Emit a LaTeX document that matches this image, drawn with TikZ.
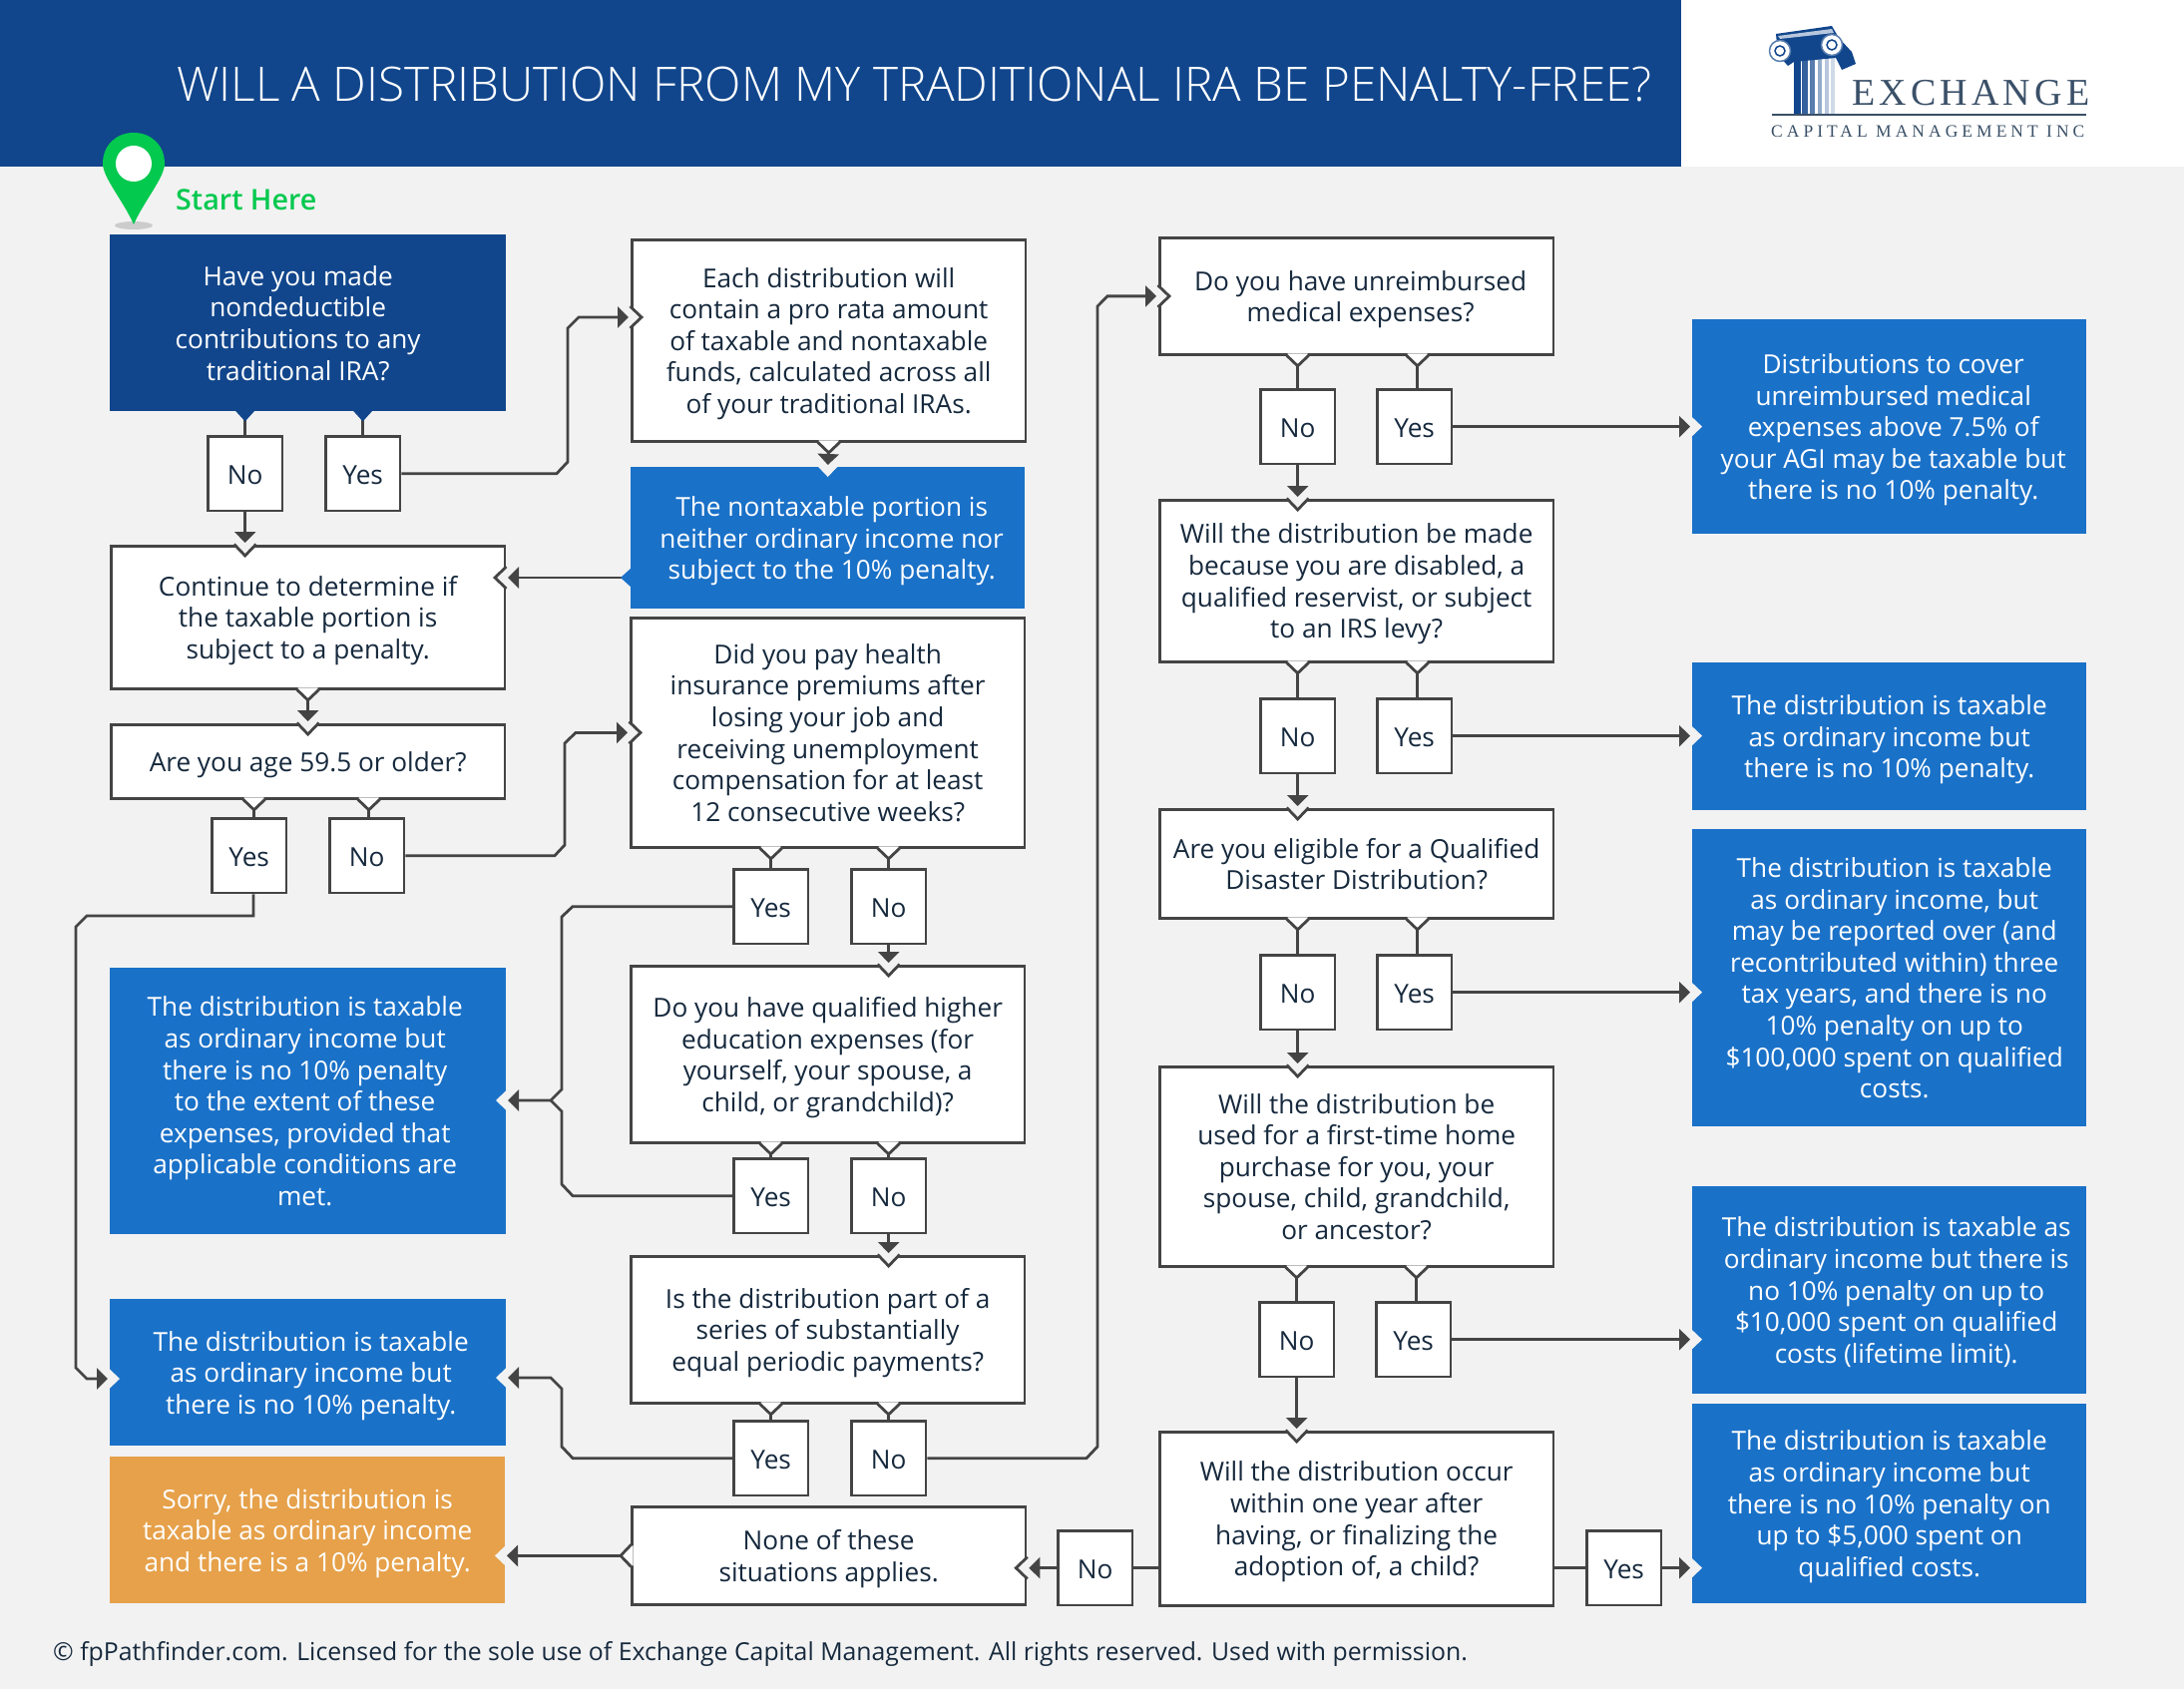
\documentclass[tikz,border=0pt]{standalone}
\usepackage{fontspec}
\setmainfont{Open Sans}
\newfontfamily\titlefont{Open Sans Light}
\newfontfamily\startfont{Open Sans Semibold}
\newfontfamily\logofont[LetterSpace=11]{Liberation Serif}
\newfontfamily\logosmall[LetterSpace=23]{Liberation Serif}
\usepackage{tikz}
\usetikzlibrary{arrows.meta}
\definecolor{paper}{HTML}{F2F2F2}
\definecolor{navy}{HTML}{11468C}
\definecolor{midblue}{HTML}{1A71C8}
\definecolor{amber}{HTML}{E6A14A}
\definecolor{ink}{HTML}{16293D}
\definecolor{wire}{HTML}{444444}
\definecolor{pingreen}{HTML}{03C94F}
\definecolor{slate}{HTML}{3A5068}
\tikzset{
    every node/.append style={font=\fontsize{26.2}{31.6}\selectfont, text=ink, align=center, inner sep=0pt},
    wh/.style 2 args={minimum width=#1pt, minimum height=#2pt, anchor=north west},
    lines/.style={text depth=-2pt},
    oneline/.style={text height=28pt, text depth=7pt},
    quest/.style={lines, draw=wire, line width=2.8pt, fill=white, wh={394.5}{100}},
    answer/.style={oneline, draw=wire, line width=2.8pt, fill=white, wh={74.5}{74.5}},
    result/.style={lines, fill=midblue, text=white, wh={395}{100}},
    over/.style={lines, text=white},
    link/.style={draw=wire, line width=2.8pt},
    arrow/.style={link, -{Triangle[length=11pt,width=21pt]}, shorten >=2pt},
    bumpw/.pic={\fill[white] (-10,-2.5) -- (-10,0) -- (0,10) -- (10,0) -- (10,-2.5) -- cycle;
        \draw[link] (-11,-0.5) -- (0,10) -- (11,-0.5);},
    bumpn/.pic={\fill[navy] (-10,-1) -- (0,10) -- (10,-1) -- cycle;},
    bumpb/.pic={\fill[midblue] (-10,-1) -- (0,10) -- (10,-1) -- cycle;},
    notchw/.pic={\fill[paper] (-11,-2.5) -- (-11,0) -- (0,11) -- (11,0) -- (11,-2.5) -- cycle;
        \draw[link] (-11,-0.5) -- (0,11) -- (11,-0.5);},
    notchc/.pic={\fill[paper] (-10.5,-1) -- (0,10) -- (10.5,-1) -- cycle;},
}
\begin{document}
\begin{tikzpicture}[x=1pt, y=-1pt]
    \useasboundingbox (0,0) rectangle (2189,1693);
    \fill[paper] (0,0) rectangle (2189,1693);
    % header
    \fill[navy] (0,0) rectangle (1685,167);
    \fill[navy] (1685,72) -- (1695,82) -- (1685,92) -- cycle;
    \fill[white] (1685,0) rectangle (2189,167);
    \node[font=\titlefont\fontsize{47.6}{50}\selectfont, text=white, anchor=west] (title) at (177,84) {WILL A DISTRIBUTION FROM MY TRADITIONAL IRA BE PENALTY-FREE?};
    % logo
    \fill[navy] (1798,50) rectangle (1805,115);
    \fill[navy!85] (1806,50) rectangle (1812,115);
    \fill[navy!70] (1814,50) rectangle (1819,115);
    \fill[navy!45] (1822,50) rectangle (1826,115);
    \fill[navy!30] (1829,50) rectangle (1833,115);
    \fill[navy!20] (1835,50) rectangle (1839,115);
    \fill[navy] (1780,34) -- (1836,26) -- (1843,38) -- (1856,52) -- (1860,64) -- (1846,70) -- (1840,58) -- (1798,62) -- (1792,66) -- (1782,55) -- cycle;
    \fill[white!70!navy] (1782,36) -- (1836,29) -- (1838,33) -- (1784,39) -- cycle;
    \draw[navy!70, line width=1.5pt, fill=white] (1784,51) circle (10.5);
    \draw[navy, line width=1.5pt] (1784,51) circle (5);
    \draw[navy!70, line width=1.5pt, fill=white] (1836,45) circle (10.5);
    \draw[navy, line width=1.5pt] (1836,45) circle (5);
    \draw[slate, line width=2.2pt] (1776,115) -- (2091,115);
    \node[font=\logofont\fontsize{38}{40}\selectfont, text=slate, anchor=base west] (exch) at (1856,106) {EXCHANGE};
    \node[font=\logosmall\fontsize{17.5}{20}\selectfont, text=slate, anchor=base west] (capm) at (1775,137.5) {CAPITAL MANAGEMENT INC};
    % start pin
    \fill[black!20] (134,226) ellipse (19 and 4);
    \fill[pingreen] (134,225) .. controls (124,202) and (103,178) .. (103,164) .. controls (103,145) and (117,133) .. (134,133) .. controls (151,133) and (165,145) .. (165,164) .. controls (165,178) and (144,202) .. (134,225) -- cycle;
    \fill[white] (134,164) circle (18);
    \node[font=\startfont\fontsize{28.7}{32}\selectfont, text=pingreen, anchor=west] (start) at (176,200.5) {Start Here};
    % left column
    \node[wh={397}{177}, fill=navy] (q1) at (110,235) {};
    \node[over] (q1text) at ([xshift=-10pt]q1.center) {Have you made\\nondeductible\\contributions to any\\traditional IRA?};
    \node[answer] (no1) at (207,436) {No};
    \node[answer] (yes1) at (325,436) {Yes};
    \node[quest, minimum height=143pt] (cont) at (110,546) {Continue to determine if\\the taxable portion is\\subject to a penalty.};
    \node[quest, oneline, minimum height=74pt] (age) at (110,725) {Are you age 59.5 or older?};
    \node[answer] (yes2) at (211,819) {Yes};
    \node[answer] (no2) at (329,819) {No};
    \node[wh={397}{267}, fill=midblue] (left1) at (110,970) {};
    \node[over] (left1text) at ([xshift=-3pt]left1.center) {The distribution is taxable\\as ordinary income but\\there is no 10\% penalty\\to the extent of these\\expenses, provided that\\applicable conditions are\\met.};
    \node[wh={397}{147}, fill=midblue] (left2) at (110,1302) {};
    \node[over] (left2text) at ([xshift=3pt]left2.center) {The distribution is taxable\\as ordinary income but\\there is no 10\% penalty.};
    \node[result, wh={396}{147}, fill=amber] (sorry) at (110,1460) {Sorry, the distribution is\\taxable as ordinary income\\and there is a 10\% penalty.};
    % middle column
    \node[quest, minimum height=202pt] (each) at (632,239) {Each distribution will\\contain a pro rata amount\\of taxable and nontaxable\\funds, calculated across all\\of your traditional IRAs.};
    \node[wh={395}{142}, fill=midblue] (nontax) at (632,468) {};
    \node[over] (nontaxtext) at ([xshift=4pt]nontax.center) {The nontaxable portion is\\neither ordinary income nor\\subject to the 10\% penalty.};
    \node[quest, minimum height=230pt] (health) at (631,618) {Did you pay health\\insurance premiums after\\losing your job and\\receiving unemployment\\compensation for at least\\12 consecutive weeks?};
    \node[answer] (yes3) at (734,870) {Yes};
    \node[answer] (no3) at (852,870) {No};
    \node[quest, minimum height=177pt] (edu) at (631,967) {Do you have qualified higher\\education expenses (for\\yourself, your spouse, a\\child, or grandchild)?};
    \node[answer] (yes4) at (734,1160) {Yes};
    \node[answer] (no4) at (852,1160) {No};
    \node[quest, minimum height=147pt] (series) at (631,1258) {Is the distribution part of a\\series of substantially\\equal periodic payments?};
    \node[answer] (yes5) at (734,1423) {Yes};
    \node[answer] (no5) at (852,1423) {No};
    \node[quest, minimum height=98pt] (none) at (632,1509) {None of these\\situations applies.};
    \node[answer] (no6) at (1059,1533) {No};
    % right column
    \node[quest, minimum height=117pt] (med) at (1161,237) {};
    \node[lines] (medtext) at ([xshift=4pt]med.center) {Do you have unreimbursed\\medical expenses?};
    \node[answer] (no7) at (1262,389) {No};
    \node[answer] (yes7) at (1379,389) {Yes};
    \node[quest, minimum height=162pt] (disab) at (1161,500) {Will the distribution be made\\because you are disabled, a\\qualified reservist, or subject\\to an IRS levy?};
    \node[answer] (no8) at (1262,699) {No};
    \node[answer] (yes8) at (1379,699) {Yes};
    \node[quest, minimum height=109pt] (qual) at (1161,810) {Are you eligible for a Qualified\\Disaster Distribution?};
    \node[answer] (no9) at (1262,956) {No};
    \node[answer] (yes9) at (1379,956) {Yes};
    \node[quest, minimum height=200pt] (first) at (1161,1068) {Will the distribution be\\used for a first-time home\\purchase for you, your\\spouse, child, grandchild,\\or ancestor?};
    \node[answer] (no10) at (1261,1304) {No};
    \node[answer] (yes10) at (1378,1304) {Yes};
    \node[quest, minimum height=174pt] (adopt) at (1161,1434) {Will the distribution occur\\within one year after\\having, or finalizing the\\adoption of, a child?};
    \node[answer] (yes11) at (1589,1533) {Yes};
    % results
    \node[wh={395}{215}, fill=midblue] (res1) at (1696,320) {};
    \node[over] (res1text) at ([xshift=4pt]res1.center) {Distributions to cover\\unreimbursed medical\\expenses above 7.5\% of\\your AGI may be taxable but\\there is no 10\% penalty.};
    \node[result, wh={395}{148}] (res2) at (1696,664) {The distribution is taxable\\as ordinary income but\\there is no 10\% penalty.};
    \node[wh={395}{298}, fill=midblue] (res3) at (1696,831) {};
    \node[over] (res3text) at ([xshift=5pt]res3.center) {The distribution is taxable\\as ordinary income, but\\may be reported over (and\\recontributed within) three\\tax years, and there is no\\10\% penalty on up to\\\$100,000 spent on qualified\\costs.};
    \node[wh={395}{208}, fill=midblue] (res4) at (1696,1189) {};
    \node[over] (res4text) at ([xshift=7pt]res4.center) {The distribution is taxable as\\ordinary income but there is\\no 10\% penalty on up to\\\$10,000 spent on qualified\\costs (lifetime limit).};
    \node[result, wh={395}{200}] (res5) at (1696,1407) {The distribution is taxable\\as ordinary income but\\there is no 10\% penalty on\\up to \$5,000 spent on\\qualified costs.};
    \node[font=\fontsize{24.8}{30}\selectfont, anchor=west] (foot) at (53,1658) {\textcopyright\ fpPathfinder.com. Licensed for the sole use of Exchange Capital Management. All rights reserved. Used with permission.};
    % question to its answers
    \foreach \ans/\src/\dx in {yes2/age/5,no2/age/2,yes3/health/0,no3/health/0,yes4/edu/0,no4/edu/0,yes5/series/0,no5/series/0,no7/med/0,yes7/med/3,no8/disab/0,yes8/disab/3,no9/qual/0,yes9/qual/3,no10/first/0,yes10/first/3}{
        \draw[link] ([xshift=\dx pt]\ans.north) -- ([xshift=\dx pt]\ans.north |- \src.south);
        \pic at ([xshift=\dx pt]\ans.north |- \src.south) {bumpw};
    }
    \draw[link] (no1.north) -- (no1.north |- q1.south);
    \draw[link] (yes1.north) -- (yes1.north |- q1.south);
    \pic at (no1.north |- q1.south) {bumpn};
    \pic at (yes1.north |- q1.south) {bumpn};
    % straight down into the next box
    \foreach \src/\dst in {no1/cont,cont/age,no3/edu,no4/series,no7/disab,no8/qual,no9/first,no10/adopt}{
        \pic at (\src.south |- \dst.north) {notchw};
        \draw[arrow] (\src.south) -- (\src.south |- \dst.north);
    }
    \pic at (nontax.north) {notchc};
    \draw[arrow] (each.south) -- (nontax.north);
    \pic at (each.south) {bumpw};
    \pic at (cont.south) {bumpw};
    % answers across to a result
    \foreach \ans/\dst in {yes7/res1,yes8/res2,yes9/res3,yes10/res4,yes11/res5}{
        \pic[rotate=90] at (\ans.east -| \dst.west) {notchc};
        \draw[arrow] (\ans.east) -- (\ans.east -| \dst.west);
    }
    % elbows
    \coordinate (eachin) at (632,318);
    \pic[rotate=90] at (eachin) {notchw};
    \draw[arrow] (yes1.east) -- (558,474.65) -- (569,463) -- (569,329) -- (580,318) -- (eachin);
    \pic[rotate=90] at (health.west) {notchw};
    \draw[arrow] (no2.east) -- (556,857.65) -- (566,847) -- (566,745) -- (577,734.4) -- (health.west);
    \coordinate (contin) at (507,579);
    \coordinate (taxout) at (632,579);
    \pic[rotate=-90] at (contin) {notchw};
    \draw[arrow] (taxout) -- (contin);
    \pic[rotate=-90] at (taxout) {bumpb};
    \coordinate (left2in) at (110,1382);
    \pic[rotate=90] at (left2in) {notchc};
    \draw[arrow] (yes2.south -| 254,0) -- (254,918) -- (87,918) -- (76,929) -- (76,1371) -- (87,1382) -- (left2in);
    \coordinate (left1in) at (507,1103);
    \pic[rotate=-90] at (left1in) {notchc};
    \draw[arrow] (yes3.west) -- (574,908.65) -- (563,919) -- (563,1092) -- (552,1103) -- (left1in);
    \draw[link] (yes4.west) -- (574,1198.65) -- (563,1187) -- (563,1114) -- (552,1103);
    \coordinate (left2out) at (507,1381);
    \pic[rotate=-90] at (left2out) {notchc};
    \draw[arrow] (yes5.west) -- (574,1461.65) -- (563,1450) -- (563,1392) -- (552,1381) -- (left2out);
    \pic[rotate=90] at (med.west) {notchw};
    \draw[arrow] (no5.east) -- (1089,1461.65) -- (1100,1450) -- (1100,307) -- (1110,296.9) -- (med.west);
    % bottom row
    \draw[link] (adopt.west |- no6.east) -- (no6.east);
    \pic[rotate=-90] at (none.east |- no6.west) {notchw};
    \draw[arrow] (no6.west) -- (none.east |- no6.west);
    \draw[link] (adopt.east |- yes11.west) -- (yes11.west);
    \coordinate (sorryin) at (506,1559.4);
    \pic[rotate=-90] at (sorryin) {notchc};
    \draw[arrow] (none.west) -- (sorryin);
    \pic[rotate=-90] at (none.west) {bumpw};
\end{tikzpicture}
\end{document}
